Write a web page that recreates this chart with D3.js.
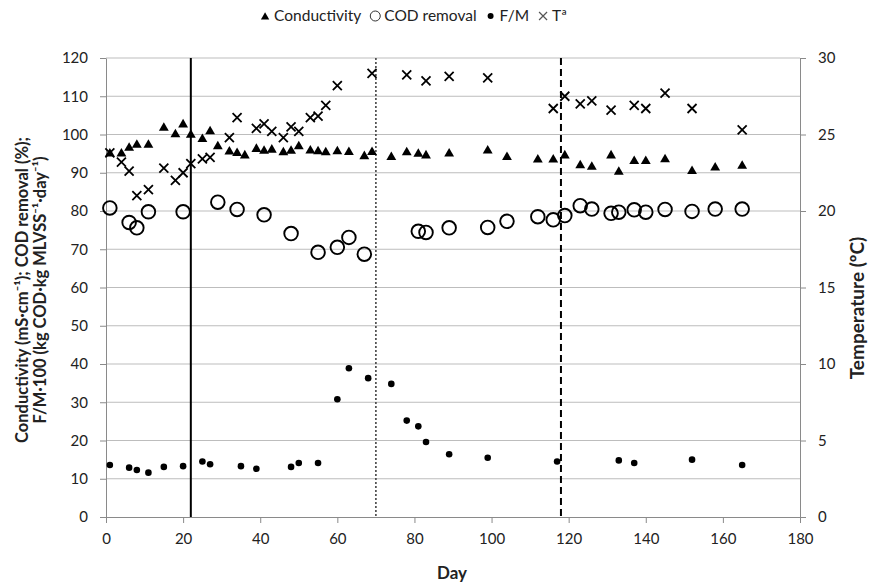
<!DOCTYPE html>
<html>
<head>
<meta charset="utf-8">
<script src="https://cdn.jsdelivr.net/npm/d3@7"></script>
<style>
  body { margin: 0; background: #fff; }
  svg text { font-family: Lato, "Open Sans", sans-serif; fill: #222; }
</style>
</head>
<body>
<div id="chart"></div>
<script>
// Values
const condDays = [1, 4, 6, 8, 11, 15, 18, 20, 22, 25, 27, 29, 32, 34, 36, 39, 41, 43, 46, 48, 50, 53, 55, 57, 60, 63, 67, 69, 74, 78, 81, 83, 89, 99, 104, 112, 116, 119, 123, 126, 131, 133, 137, 140, 145, 152, 158, 165];
const condValues = [95.0, 95.0, 96.5, 97.3, 97.3, 101.7, 100.0, 102.6, 99.9, 98.8, 100.8, 96.9, 95.5, 95.1, 94.5, 96.2, 95.7, 96.0, 95.3, 95.7, 96.9, 95.8, 95.6, 95.3, 95.6, 95.4, 94.3, 95.4, 94.1, 95.3, 94.9, 94.5, 95.0, 95.8, 94.1, 93.4, 93.4, 94.5, 91.9, 91.5, 94.5, 90.2, 93.0, 93.0, 93.5, 90.4, 91.3, 91.8];

const codDays = [1, 6, 8, 11, 20, 29, 34, 41, 48, 55, 60, 63, 67, 81, 83, 89, 99, 104, 112, 116, 119, 123, 126, 131, 133, 137, 140, 145, 152, 158, 165];
const codValues = [80.8, 77.0, 75.6, 79.8, 79.8, 82.3, 80.4, 79.0, 74.1, 69.2, 70.5, 73.1, 68.7, 74.7, 74.4, 75.6, 75.7, 77.3, 78.5, 77.7, 78.8, 81.4, 80.5, 79.4, 79.7, 80.3, 79.7, 80.4, 79.9, 80.5, 80.5];

const fmDays = [1, 6, 8, 11, 15, 20, 25, 27, 35, 39, 48, 50, 55, 60, 63, 68, 74, 78, 81, 83, 89, 99, 117, 133, 137, 152, 165];
const fmValues = [13.6, 12.9, 12.3, 11.6, 13.1, 13.3, 14.5, 13.8, 13.3, 12.6, 13.1, 14.1, 14.1, 30.8, 38.9, 36.3, 34.8, 25.2, 23.7, 19.6, 16.4, 15.5, 14.5, 14.8, 14.1, 15.0, 13.6];

const tempDays = [1, 4, 6, 8, 11, 15, 18, 20, 22, 25, 27, 32, 34, 39, 41, 43, 46, 48, 50, 53, 55, 57, 60, 69, 78, 83, 89, 99, 116, 119, 123, 126, 131, 137, 140, 145, 152, 165];
const tempValues = [23.8, 23.2, 22.6, 21.0, 21.4, 22.8, 22.0, 22.5, 23.1, 23.4, 23.5, 24.8, 26.1, 25.4, 25.7, 25.2, 24.8, 25.5, 25.2, 26.1, 26.2, 26.9, 28.2, 29.0, 28.9, 28.5, 28.8, 28.7, 26.7, 27.5, 27.0, 27.2, 26.6, 26.9, 26.7, 27.7, 26.7, 25.3];

const phaseDays = [22, 70, 118];
const phaseStyles = ["solid", "dotted", "dashed"];

const xTicks = [0, 20, 40, 60, 80, 100, 120, 140, 160, 180];
const yLeftTicks = [0, 10, 20, 30, 40, 50, 60, 70, 80, 90, 100, 110, 120];
const yRightTicks = [0, 5, 10, 15, 20, 25, 30];

const legendItems = ["Conductivity", "COD removal", "F/M", "Tª"];

const W = 875, H = 585;
const margin = { top: 58, right: 75, bottom: 68, left: 106 };
const width = W - margin.left - margin.right;
const height = H - margin.top - margin.bottom;

const svg = d3.select("#chart").append("svg")
  .attr("width", W).attr("height", H);

const g = svg.append("g")
  .attr("transform", `translate(${margin.left},${margin.top})`);

const x = d3.scaleLinear().domain([0, 180]).range([0, width]);
const yL = d3.scaleLinear().domain([0, 120]).range([height, 0]);
const yR = d3.scaleLinear().domain([0, 30]).range([height, 0]);

// gridlines
g.append("g").selectAll("line")
  .data(yLeftTicks.filter(d => d > 0))
  .enter().append("line")
  .attr("x1", 0).attr("x2", width)
  .attr("y1", d => yL(d)).attr("y2", d => yL(d))
  .attr("stroke", "#bdbdbd").attr("stroke-width", 1);

// axes
const axisColor = "#8a8a8a";
function styleAxis(sel) {
  sel.select(".domain").attr("stroke", axisColor);
  sel.selectAll(".tick line").attr("stroke", axisColor);
  sel.selectAll(".tick text").attr("font-size", 15).attr("fill", "#222");
}

g.append("g")
  .attr("transform", `translate(0,${height})`)
  .call(d3.axisBottom(x).tickValues(xTicks).tickSize(6).tickSizeOuter(0).tickPadding(10))
  .call(styleAxis);

g.append("g")
  .call(d3.axisLeft(yL).tickValues(yLeftTicks).tickSize(6).tickSizeOuter(0).tickPadding(12))
  .call(styleAxis);

g.append("g")
  .attr("transform", `translate(${width},0)`)
  .call(d3.axisRight(yR).tickValues(yRightTicks).tickSize(6).tickSizeOuter(0).tickPadding(12))
  .call(styleAxis);

// phase lines
g.append("g").selectAll("line")
  .data(phaseDays)
  .enter().append("line")
  .attr("x1", d => x(d)).attr("x2", d => x(d))
  .attr("y1", 0).attr("y2", height)
  .attr("stroke", (d, i) => phaseStyles[i] === "dotted" ? "#444" : "#000")
  .attr("stroke-width", (d, i) => phaseStyles[i] === "dotted" ? 1.6 : 2)
  .attr("stroke-dasharray", (d, i) => phaseStyles[i] === "dotted" ? "2,2" : phaseStyles[i] === "dashed" ? "7,4" : null);

const tri = d3.symbol().type(d3.symbolTriangle).size(42);
const cross = "M-4.5,-4.5L4.5,4.5M-4.5,4.5L4.5,-4.5";

// conductivity
g.append("g").selectAll("path")
  .data(condDays.map((d, i) => [d, condValues[i]]))
  .enter().append("path")
  .attr("d", tri)
  .attr("transform", d => `translate(${x(d[0])},${yL(d[1])})`)
  .attr("fill", "#000");

// COD removal
g.append("g").selectAll("circle")
  .data(codDays.map((d, i) => [d, codValues[i]]))
  .enter().append("circle")
  .attr("cx", d => x(d[0])).attr("cy", d => yL(d[1]))
  .attr("r", 6.8)
  .attr("fill", "none").attr("stroke", "#000").attr("stroke-width", 1.9);

// F/M
g.append("g").selectAll("circle")
  .data(fmDays.map((d, i) => [d, fmValues[i]]))
  .enter().append("circle")
  .attr("cx", d => x(d[0])).attr("cy", d => yL(d[1]))
  .attr("r", 3.3)
  .attr("fill", "#000");

// temperature
g.append("g").selectAll("path")
  .data(tempDays.map((d, i) => [d, tempValues[i]]))
  .enter().append("path")
  .attr("d", cross)
  .attr("transform", d => `translate(${x(d[0])},${yR(d[1])})`)
  .attr("stroke", "#000").attr("stroke-width", 1.8).attr("fill", "none");

// shrink or grow a title so it covers about the same length as in the picture
function fitText(t, target) {
  const len = t.node().getComputedTextLength();
  const fs = +t.attr("font-size");
  t.attr("font-size", Math.min(19, fs * target / len));
}

// axis titles
const dayTitle = svg.append("text")
  .attr("x", margin.left + width / 2 - 1).attr("y", 579)
  .attr("text-anchor", "middle")
  .attr("font-size", 16).attr("font-weight", "bold")
  .text("Day");
fitText(dayTitle, 30);

const leftTitle = svg.append("text")
  .attr("transform", "translate(28,290) rotate(-90)")
  .attr("text-anchor", "middle")
  .attr("font-size", 16.5).attr("font-weight", "bold");
leftTitle.append("tspan").attr("x", 0).attr("dy", 0)
  .text("Conductivity (mS·cm⁻¹); COD removal (%);");
leftTitle.append("tspan").attr("x", 0).attr("dy", 17.5)
  .text("F/M·100 (kg COD·kg MLVSS⁻¹·day⁻¹)");

const rightTitle = svg.append("text")
  .attr("transform", "translate(864,308) rotate(-90)")
  .attr("text-anchor", "middle")
  .attr("font-size", 16.5).attr("font-weight", "bold")
  .text("Temperature (ºC)");
fitText(rightTitle, 150);

// legend
const legend = svg.append("g").attr("transform", "translate(0,16)");
const markers = [
  s => s.append("path").attr("d", d3.symbol().type(d3.symbolTriangle).size(30)).attr("fill", "#000").attr("transform", "translate(0,1)"),
  s => s.append("circle").attr("r", 5).attr("fill", "none").attr("stroke", "#333").attr("stroke-width", 1),
  s => s.append("circle").attr("r", 3).attr("fill", "#000"),
  s => s.append("path").attr("d", "M-4,-4L4,4M-4,4L4,-4").attr("stroke", "#555").attr("stroke-width", 1.2)
];
let cx = 0;
const items = [];
legendItems.forEach((name, i) => {
  const it = legend.append("g");
  const m = it.append("g");
  markers[i](m);
  const t = it.append("text").attr("x", 9).attr("y", 5).attr("font-size", 15.5).text(name);
  const w = 9 + t.node().getComputedTextLength();
  items.push({ it, w });
});
const gap = 14;
const total = d3.sum(items, d => d.w) + gap * (items.length - 1);
cx = 412 - total / 2 + 4;
items.forEach(d => {
  d.it.attr("transform", `translate(${cx},0)`);
  cx += d.w + gap;
});
</script>
</body>
</html>
